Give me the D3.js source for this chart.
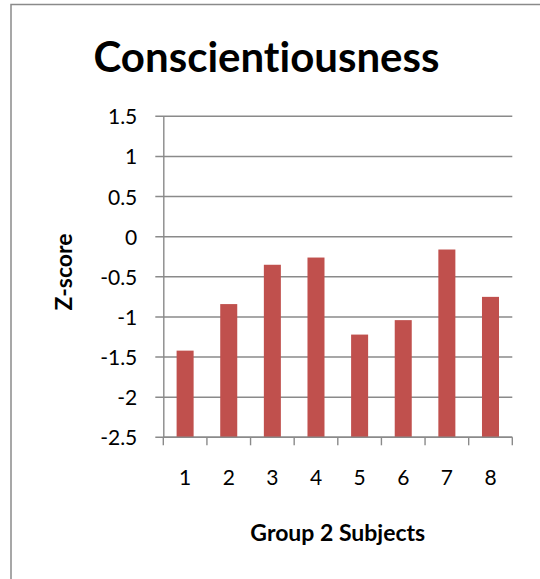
<!DOCTYPE html>
<html>
<head>
<meta charset="utf-8">
<script src="https://cdn.jsdelivr.net/npm/d3@7"></script>
<style>
  body { margin: 0; background: #fff; }
  svg { display: block; }
  text { font-family: Lato, "Open Sans", sans-serif; fill: #000; font-variant-ligatures: none; }
</style>
</head>
<body>
<div id="chart"></div>
<script>
// data
const subjects = ["1", "2", "3", "4", "5", "6", "7", "8"];
const zScores = [-1.42, -0.84, -0.35, -0.26, -1.22, -1.04, -0.16, -0.75];
const yTicks = [1.5, 1, 0.5, 0, -0.5, -1, -1.5, -2, -2.5];

const width = 540;
const height = 579;
const margin = {top: 116.3, right: 27.7, bottom: 141.7, left: 163.3};

const svg = d3.select("#chart")
    .append("svg")
    .attr("width", width)
    .attr("height", height);

// chart frame (cut off at right and bottom)
svg.append("rect")
    .attr("x", 11)
    .attr("y", 4.5)
    .attr("width", 600)
    .attr("height", 700)
    .attr("fill", "none")
    .attr("stroke", "#8a8a8a")
    .attr("stroke-width", 1.5);

//----------------------------SCALES----------------------------//
const xScale = d3.scaleBand()
    .domain(subjects)
    .range([margin.left, width - margin.right])
    .paddingInner(0.61)
    .paddingOuter(0.305);

const yScale = d3.scaleLinear()
    .domain([-2.5, 1.5])
    .range([height - margin.bottom, margin.top]);

//-----------------------------GRID-----------------------------//
svg.append("g")
    .selectAll("line")
    .data(yTicks)
    .enter()
    .append("line")
    .attr("x1", margin.left - 8)
    .attr("x2", width - margin.right)
    .attr("y1", d => yScale(d))
    .attr("y2", d => yScale(d))
    .attr("stroke", "#8a8a8a")
    .attr("stroke-width", 1.4);

//-----------------------------BARS-----------------------------//
svg.append("g")
    .selectAll("rect")
    .data(subjects)
    .enter()
    .append("rect")
    .attr("x", d => xScale(d))
    .attr("width", xScale.bandwidth())
    .attr("y", (d, i) => yScale(zScores[i]))
    .attr("height", (d, i) => yScale(-2.5) - yScale(zScores[i]))
    .attr("fill", "#c0504d");

//-----------------------------AXES-----------------------------//
const yaxis = d3.axisLeft(yScale)
    .tickValues(yTicks)
    .tickSize(0)
    .tickPadding(26)
    .tickFormat(d3.format("~g"));

const gy = svg.append("g")
    .attr("transform", "translate(" + margin.left + ",0)")
    .call(yaxis);
gy.select(".domain").attr("stroke", "#8a8a8a").attr("stroke-width", 1.4);
gy.selectAll("text")
    .style("font-size", "21px")
    .attr("dy", "0.36em")
    .text(d => d < 0 ? "-" + Math.abs(d) : d);

const xaxis = d3.axisBottom(xScale)
    .tickSize(0)
    .tickPadding(33);

const gx = svg.append("g")
    .attr("transform", "translate(0," + yScale(-2.5) + ")")
    .call(xaxis);
gx.select(".domain").remove();
gx.selectAll("text").style("font-size", "21px");

// category boundary ticks
const x0 = xScale.range()[0];
svg.append("g")
    .selectAll("line")
    .data(d3.range(subjects.length + 1))
    .enter()
    .append("line")
    .attr("x1", i => x0 + i * xScale.step())
    .attr("x2", i => x0 + i * xScale.step())
    .attr("y1", yScale(-2.5))
    .attr("y2", yScale(-2.5) + 8)
    .attr("stroke", "#8a8a8a")
    .attr("stroke-width", 1.4);

svg.append("line")
    .attr("x1", margin.left)
    .attr("x2", width - margin.right)
    .attr("y1", yScale(-2.5))
    .attr("y2", yScale(-2.5))
    .attr("stroke", "#8a8a8a")
    .attr("stroke-width", 1.4);

//----------------------------TITLES----------------------------//
svg.append("text")
    .attr("x", 266.5)
    .attr("y", 72)
    .attr("text-anchor", "middle")
    .style("font-size", "42px")
    .style("font-weight", "bold")
    .text("Conscientiousness");

svg.append("text")
    .attr("x", (margin.left + width - margin.right) / 2)
    .attr("y", 541)
    .attr("text-anchor", "middle")
    .style("font-size", "23px")
    .style("font-weight", "bold")
    .text("Group 2 Subjects");

svg.append("text")
    .attr("transform", "translate(72,272) rotate(-90)")
    .attr("text-anchor", "middle")
    .style("font-size", "23px")
    .style("font-weight", "bold")
    .text("Z-score");
</script>
</body>
</html>
